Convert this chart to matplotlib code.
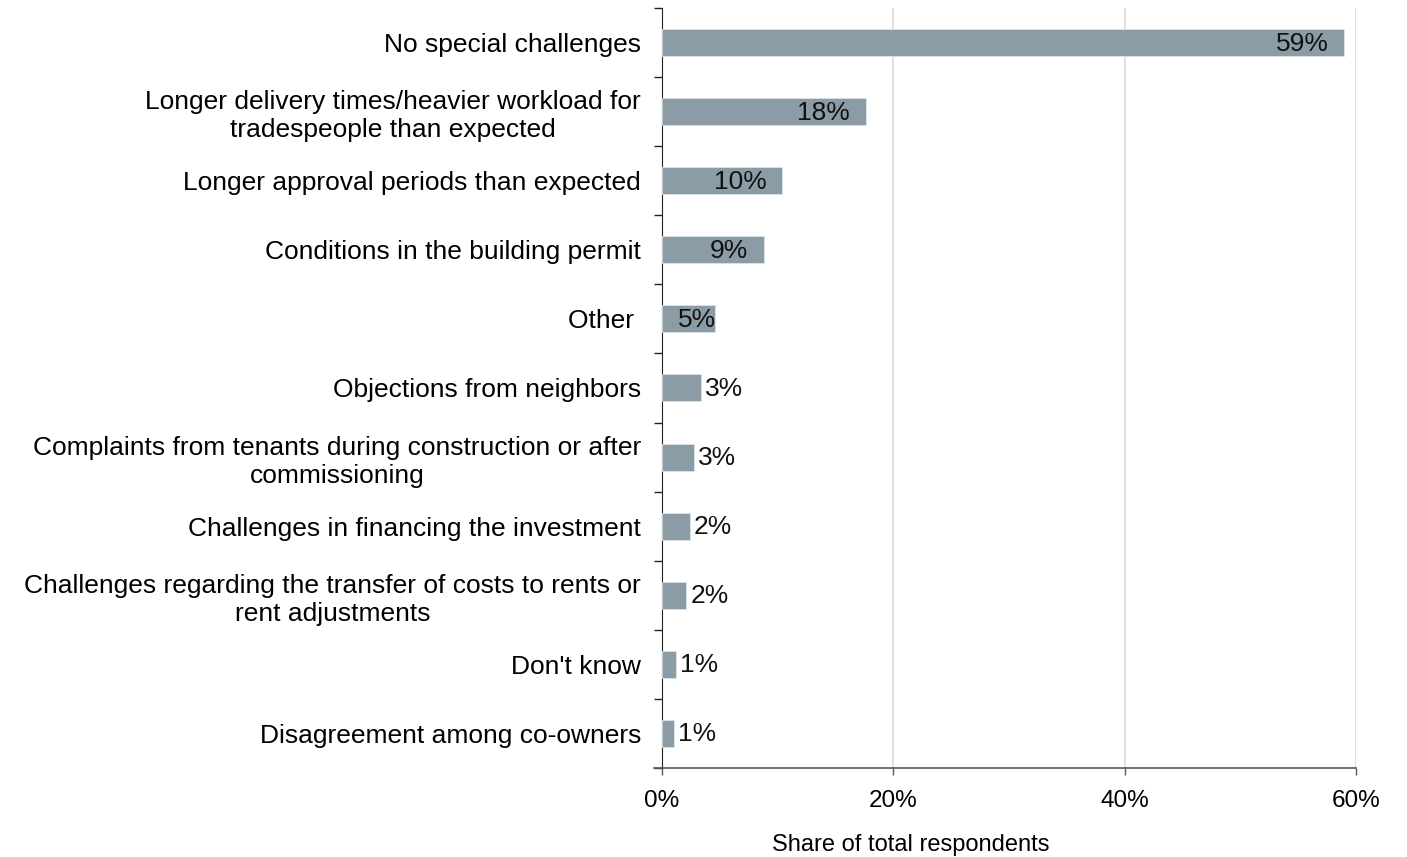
import matplotlib
matplotlib.use('Agg')
import matplotlib.pyplot as plt
from matplotlib.ticker import FixedLocator, PercentFormatter

plt.rcParams['font.family'] = ['Liberation Sans', 'DejaVu Sans']

# 调查结果:翻新过程中遇到的挑战
categories = [
    'No special challenges',
    'Longer delivery times/heavier workload for\ntradespeople than expected',
    'Longer approval periods than expected',
    'Conditions in the building permit',
    'Other ',
    'Objections from neighbors',
    'Complaints from tenants during construction or after\ncommissioning',
    'Challenges in financing the investment',
    'Challenges regarding the transfer of costs to rents or\nrent adjustments',
    "Don't know",
    'Disagreement among co-owners',
]
shares = [59.0, 17.6, 10.4, 8.8, 4.6, 3.4, 2.8, 2.4, 2.1, 1.2, 1.0]
x_ticks = [0, 20, 40, 60]
x_title = 'Share of total respondents'

bar_color = '#8B9CA6'

fig = plt.figure(figsize=(14.07, 8.57), dpi=100)
ax = fig.add_axes([0.4705, 0.1039, 0.4933, 0.8868])

pos = list(range(len(categories)))
ax.barh(pos, shares, height=0.39, color=bar_color, edgecolor='#DDE3E7', linewidth=0.6, zorder=3)
ax.set_ylim(len(categories) - 0.5, -0.5)
ax.set_xlim(0, 60)

# 数据标签
for p, v in zip(pos, shares):
    txt = '%.0f%%' % v
    if v >= 8:
        ax.annotate(txt, (v, p), xytext=(-16, -1), textcoords='offset pixels',
                    ha='right', va='center', fontsize=19, color='#111111', zorder=4)
    elif v >= 4:
        ax.annotate(txt, (v, p), xytext=(1, -1), textcoords='offset pixels',
                    ha='right', va='center', fontsize=19, color='#111111', zorder=4)
    else:
        ax.annotate(txt, (v, p), xytext=(4, -1), textcoords='offset pixels',
                    ha='left', va='center', fontsize=19, color='#111111', zorder=4)

# 纵轴
ax.set_yticks(pos)
ax.set_yticklabels(categories, fontsize=19, linespacing=1.22)
for lbl in ax.get_yticklabels():
    lbl.set_multialignment('center')
ax.tick_params(axis='y', which='major', length=0, pad=15)
ax.yaxis.set_minor_locator(FixedLocator([i - 0.5 for i in range(len(categories) + 1)]))
ax.tick_params(axis='y', which='minor', length=6, width=1, color='#222222', direction='out')

# 横轴
ax.set_xticks(x_ticks)
ax.xaxis.set_major_formatter(PercentFormatter(decimals=0))
ax.tick_params(axis='x', length=5, width=1, color='#595959', pad=11, labelsize=17.5)
ax.grid(axis='x', color='#D9D9D9', linewidth=1.2, zorder=0)

for s in ['top', 'right']:
    ax.spines[s].set_visible(False)
ax.spines['left'].set_color('#222222')
ax.spines['bottom'].set_color('#595959')
ax.spines['bottom'].set_linewidth(1.2)
ax.spines['bottom'].set_bounds(-0.7, 60)

fig.text(0.6475, 0.014, x_title, ha='center', va='center', fontsize=17)

plt.savefig('out.png', dpi=100)
